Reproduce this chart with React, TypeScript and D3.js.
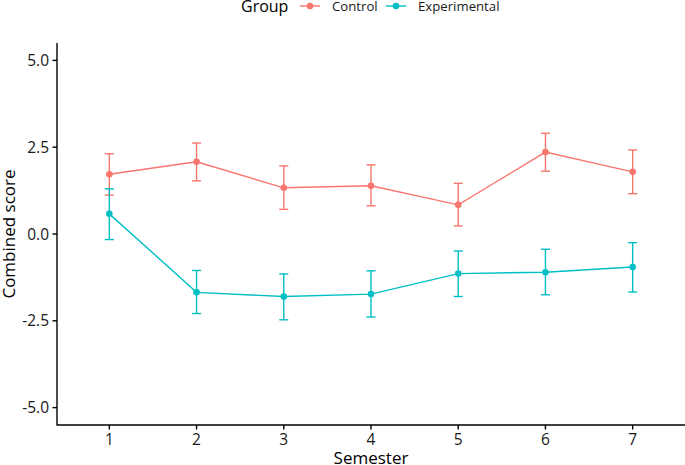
import React from "react";
import * as d3 from "d3";

const semesters = [1, 2, 3, 4, 5, 6, 7];
const controlMean = [1.72, 2.08, 1.33, 1.39, 0.84, 2.36, 1.79];
const controlLow = [1.12, 1.53, 0.71, 0.81, 0.23, 1.81, 1.16];
const controlHigh = [2.31, 2.62, 1.96, 1.99, 1.46, 2.9, 2.42];
const expMean = [0.58, -1.68, -1.8, -1.73, -1.14, -1.1, -0.95];
const expLow = [-0.16, -2.29, -2.47, -2.39, -1.8, -1.75, -1.67];
const expHigh = [1.3, -1.05, -1.15, -1.06, -0.49, -0.44, -0.25];
const yTicks = [-5, -2.5, 0, 2.5, 5];

const groups = [
  { name: "Control", color: "#F8766D", mean: controlMean, low: controlLow, high: controlHigh },
  { name: "Experimental", color: "#00BFC4", mean: expMean, low: expLow, high: expHigh },
];

const font = "'Open Sans', sans-serif";

const App = () => {
  const width = 685;
  const height = 465;
  const margin = { top: 43, right: 0, bottom: 40, left: 57 };

  const x = d3.scaleLinear()
    .domain([0.4, 7.6])
    .range([margin.left, width - margin.right]);

  const y = d3.scaleLinear()
    .domain([-5.5, 5.5])
    .range([height - margin.bottom, margin.top]);

  const line = d3.line<number>()
    .x((d, i) => x(semesters[i]))
    .y(d => y(d));

  const capW = 4.5;
  const lw = 1.4;

  return (
    <svg width={width} height={height} style={{ position: "absolute", left: 0, top: 0 }} fontFamily={font}>
      {/* legend */}
      <text x={241} y={12} fontSize={16} fill="#000">Group</text>
      {groups.map((g, i) => {
        const kx = i === 0 ? 300 : 386;
        return (
          <g key={g.name} transform={`translate(${kx}, 6)`}>
            <line x1={0} x2={20} stroke={g.color} strokeWidth={lw} />
            <circle cx={10} r={3.3} fill={g.color} />
            <text x={32} y={4.8} fontSize={13.2} fill="#1a1a1a">{g.name}</text>
          </g>
        );
      })}

      {/* axes */}
      <line x1={margin.left} x2={margin.left} y1={margin.top} y2={height - margin.bottom + 0.5} stroke="#000" strokeWidth={1.4} />
      <line x1={margin.left} x2={width - margin.right} y1={height - margin.bottom} y2={height - margin.bottom} stroke="#000" strokeWidth={1.4} />
      {yTicks.map(t => (
        <g key={t} transform={`translate(${margin.left}, ${y(t)})`}>
          <line x1={-4.5} x2={0} stroke="#000" strokeWidth={1.4} />
          <text x={-8} dy="0.36em" textAnchor="end" fontSize={15.5} fill="#1a1a1a">{t.toFixed(1)}</text>
        </g>
      ))}
      {semesters.map(s => (
        <g key={s} transform={`translate(${x(s)}, ${height - margin.bottom})`}>
          <line y2={4.5} stroke="#000" strokeWidth={1.4} />
          <text y={20} textAnchor="middle" fontSize={15.5} fill="#1a1a1a">{s}</text>
        </g>
      ))}
      <text x={(margin.left + width) / 2} y={464} textAnchor="middle" fontSize={17} fill="#000">Semester</text>
      <text transform={`translate(14.5, ${(margin.top + height - margin.bottom) / 2}) rotate(-90)`} textAnchor="middle" fontSize={17} fill="#000">Combined score</text>

      {/* series */}
      {groups.map(g => (
        <g key={g.name}>
          <path d={line(g.mean) ?? ""} fill="none" stroke={g.color} strokeWidth={lw} />
          {g.mean.map((m, i) => (
            <g key={i} stroke={g.color} strokeWidth={lw}>
              <line x1={x(semesters[i])} x2={x(semesters[i])} y1={y(g.low[i])} y2={y(g.high[i])} />
              <line x1={x(semesters[i]) - capW} x2={x(semesters[i]) + capW} y1={y(g.low[i])} y2={y(g.low[i])} />
              <line x1={x(semesters[i]) - capW} x2={x(semesters[i]) + capW} y1={y(g.high[i])} y2={y(g.high[i])} />
              <circle cx={x(semesters[i])} cy={y(m)} r={3.3} fill={g.color} stroke="none" />
            </g>
          ))}
        </g>
      ))}
    </svg>
  );
};

export default App;
